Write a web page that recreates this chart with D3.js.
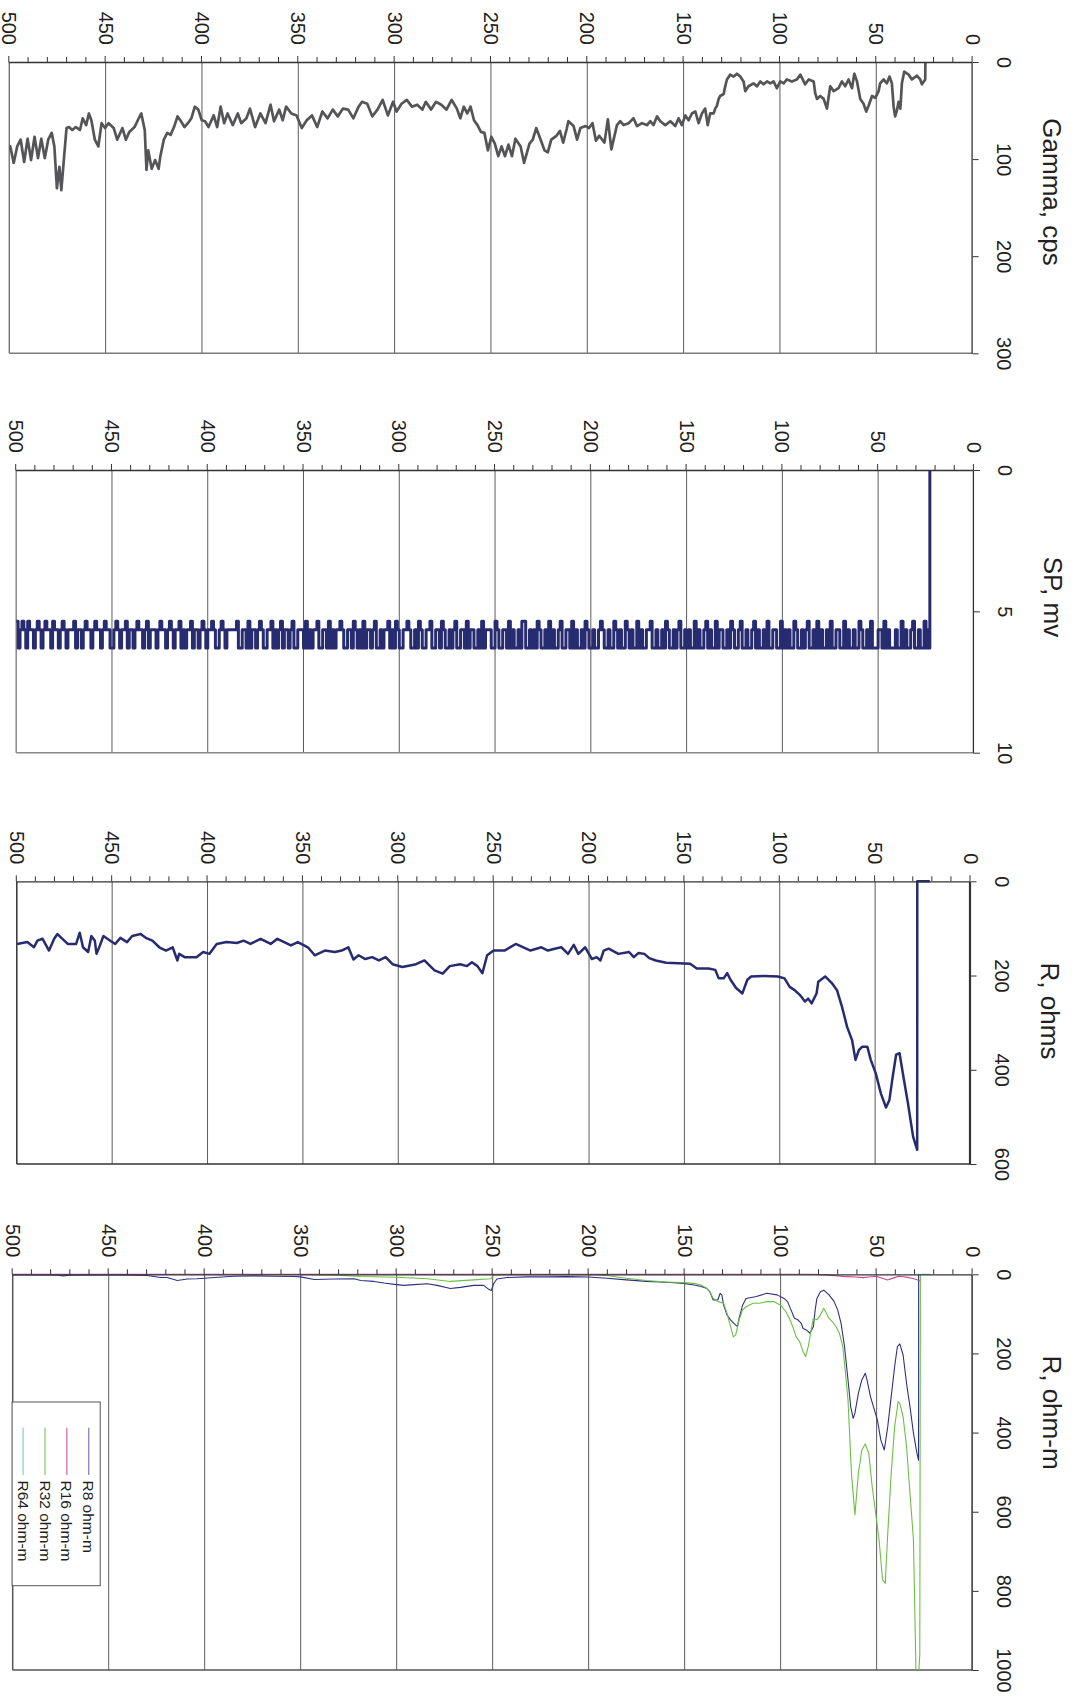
<!DOCTYPE html>
<html>
<head>
<meta charset="utf-8">
<script src="https://cdn.jsdelivr.net/npm/d3@7"></script>
<style>
  body { margin: 0; background: #fff; }
  svg { display: block; }
</style>
</head>
<body>
<svg id="chart" width="1079" height="1706"></svg>
<script>
// ---- Log data: [depth, value] ----
const gamma = [[24.5,0],[24.6,18],[26.3,23],[27.2,18],[28.9,14],[31.5,18],[33.2,13],[35.5,10],[36.7,22],[37.5,48],[38.4,41],[39.3,50],[40.2,56],[41,46],[41.9,22],[43.1,15],[44.5,22],[46.2,18],[48,22],[48.8,30],[50.5,37],[52.2,35],[54,45],[55.2,51],[56.6,43],[58.3,38],[60,20],[61.4,12],[62.6,27],[64.4,18],[66.1,25],[67.8,20],[69.6,27],[72.1,30],[73.9,25],[75.6,48],[77.3,38],[79.1,35],[80.8,38],[81.7,32],[82.5,20],[85.1,18],[86.9,23],[89.4,13],[91.2,18],[93.8,20],[96.4,18],[98.1,22],[99.8,20],[101.6,27],[103.3,20],[105,22],[106.7,20],[108.5,23],[110.2,20],[111.9,25],[113.7,22],[116.3,25],[118,30],[118.9,20],[120.6,15],[122.3,12],[124,15],[125.8,13],[127.5,18],[128.4,25],[129.2,33],[131,35],[131.8,38],[132.7,45],[133.6,48],[134.4,53],[136.2,53],[137.5,65],[138.8,48],[140.5,53],[142.2,63],[143.9,51],[145.7,53],[147.4,60],[149.1,55],[150.9,65],[152.6,58],[154.3,66],[156.9,61],[159.5,65],[162.1,61],[163.8,56],[165.6,65],[167.3,61],[169,65],[171.6,63],[174.2,66],[176,58],[178.5,63],[181.1,65],[182.9,61],[184.6,65],[187.5,90],[189.3,59],[191.1,83],[193.8,76],[195.5,81],[197.3,63],[199.1,68],[200.9,66],[203.6,68],[205.3,80],[207.1,66],[209.8,61],[210.7,69],[212.5,83],[214.2,71],[216,76],[218.7,80],[220.5,93],[222.2,91],[224.2,80],[226.5,68],[228.3,80],[230,84],[232.8,104],[234.6,87],[237.3,79],[239.1,97],[240.9,85],[242.7,97],[244.5,87],[246.2,97],[248,84],[249.8,77],[251.6,91],[253.4,73],[255.2,72],[257,65],[258.8,60],[260.6,46],[262.3,53],[264.1,46],[265.9,58],[267.7,48],[270.4,39],[273.1,49],[275.8,44],[278.5,41],[281.1,49],[283.8,41],[285.6,49],[288.3,44],[291,46],[293.7,39],[296.4,43],[299,51],[300.8,41],[303.5,55],[306.2,39],[308.9,49],[311.6,56],[314.2,43],[316.9,41],[318.7,46],[321.4,58],[324.1,49],[326.8,48],[329.5,56],[332.1,49],[334.8,58],[337.5,51],[340.2,67],[342.9,55],[345.6,60],[348.2,68],[350.9,55],[353.6,53],[356.3,46],[358.1,60],[359.9,49],[362.6,61],[364.4,44],[367,63],[369.7,53],[372.4,67],[375.1,48],[376.9,58],[379.6,63],[381.4,53],[384,65],[386.7,53],[388.5,63],[390.3,46],[392.1,67],[393.9,55],[396.6,67],[398.4,61],[400.1,60],[401.9,49],[403.7,46],[405.5,58],[407.3,63],[409.1,67],[410.9,61],[412.7,56],[414.5,67],[416.3,75],[418,73],[419.8,80],[421.6,97],[422.5,110],[424.3,101],[426.1,110],[427.9,91],[428.8,111],[429.7,70],[431.5,53],[433.3,60],[435,67],[437.7,72],[439.5,80],[441.3,68],[444,80],[445.8,68],[448.5,63],[450.3,68],[452.1,63],[453.8,87],[455.6,80],[457.4,60],[458.7,53],[460.1,65],[461.9,58],[463.3,70],[465.5,67],[467.3,70],[469,67],[470.3,68],[471.7,101],[473,132],[474,108],[475.3,130],[476.6,87],[478,73],[479.8,80],[481.6,99],[483.4,79],[485.1,99],[486.9,77],[488.7,101],[490.5,79],[492.3,103],[494.1,80],[495.9,87],[497.7,104],[499.5,87],[500,91]];

// SP, mv: one reading per metre from 23 m to 500 m
const spStartDepth = 23;
const spValues = [
6.3,5.65,6.3,5.35,6.3,6.3,5.65,6.3,6.3,5.35,5.65,6.3,6.3,5.65,6.3,5.35,6.3,6.3,5.65,6.3,
6.3,6.3,5.65,6.3,5.35,6.3,5.65,5.65,6.3,6.3,6.3,5.35,6.3,5.65,6.3,6.3,5.65,5.35,6.3,6.3,
5.65,6.3,6.3,5.65,6.3,5.35,6.3,6.3,5.65,5.65,6.3,6.3,5.35,6.3,5.65,6.3,6.3,5.65,6.3,5.35,
6.3,5.65,6.3,6.3,5.35,5.65,6.3,5.65,6.3,6.3,5.65,5.35,6.3,6.3,5.65,6.3,5.65,6.3,5.35,6.3,
6.3,5.65,5.65,6.3,6.3,5.35,6.3,5.65,6.3,6.3,5.65,6.3,5.35,5.65,6.3,6.3,5.65,6.3,6.3,5.35,
5.65,6.3,6.3,5.65,5.35,6.3,5.65,6.3,6.3,5.65,5.65,6.3,5.35,6.3,6.3,5.65,6.3,5.35,5.65,6.3,
6.3,5.65,6.3,5.35,6.3,6.3,5.65,6.3,5.65,6.3,6.3,5.35,5.65,6.3,5.65,6.3,6.3,5.65,5.35,6.3,
5.65,6.3,6.3,5.65,6.3,6.3,5.35,5.65,5.65,6.3,6.3,5.65,6.3,5.35,6.3,6.3,5.65,6.3,5.65,5.35,
6.3,6.3,5.65,6.3,5.65,5.35,6.3,6.3,5.65,6.3,6.3,5.65,5.35,5.65,6.3,6.3,5.65,6.3,6.3,5.65,
5.35,6.3,5.65,6.3,6.3,5.65,6.3,5.35,6.3,5.65,5.65,6.3,6.3,5.35,5.65,6.3,6.3,5.65,6.3,5.35,
6.3,5.65,6.3,6.3,5.65,5.35,6.3,5.65,6.3,5.65,6.3,6.3,5.35,5.35,6.3,5.65,6.3,6.3,5.65,6.3,
5.35,6.3,5.65,5.65,6.3,6.3,5.65,5.35,6.3,6.3,5.65,5.65,5.65,6.3,5.35,6.3,5.65,6.3,6.3,5.65,
5.65,6.3,5.35,6.3,5.65,5.65,6.3,6.3,5.35,5.65,6.3,5.65,6.3,6.3,5.65,5.35,6.3,5.65,5.65,6.3,
6.3,5.35,5.65,5.65,6.3,6.3,5.65,5.35,6.3,5.65,6.3,6.3,5.65,5.35,5.65,5.65,6.3,6.3,5.65,5.35,
6.3,5.65,6.3,5.35,5.65,5.65,6.3,5.65,6.3,6.3,5.35,5.65,6.3,5.65,5.65,6.3,5.35,6.3,5.65,6.3,
5.65,5.35,6.3,5.65,5.65,6.3,6.3,5.65,5.35,5.65,5.65,6.3,5.65,6.3,5.35,6.3,5.65,5.65,6.3,6.3,
5.35,5.65,5.65,6.3,5.65,6.3,5.35,6.3,5.65,5.65,5.65,6.3,6.3,5.35,5.65,6.3,5.65,5.65,6.3,5.35,
5.65,6.3,5.65,6.3,5.35,5.65,5.65,6.3,6.3,5.65,5.35,5.65,6.3,5.65,5.65,6.3,5.35,6.3,5.65,5.65,
6.3,6.3,5.35,5.65,5.65,5.65,5.65,5.65,6.3,5.65,5.35,5.65,6.3,6.3,5.65,5.35,5.65,5.65,6.3,5.65,
5.35,5.65,6.3,5.65,5.65,6.3,5.35,5.65,5.65,6.3,5.65,6.3,5.35,5.65,5.65,6.3,5.65,5.35,5.65,6.3,
5.65,5.65,5.35,5.65,6.3,5.65,5.65,5.65,6.3,5.35,5.65,6.3,5.65,5.65,5.35,5.65,6.3,5.65,5.65,6.3,
5.35,5.65,5.65,6.3,5.65,5.35,5.65,6.3,6.3,5.65,5.65,5.35,5.65,6.3,5.65,5.65,5.35,5.65,6.3,5.65,
5.65,5.35,5.65,6.3,5.65,5.65,6.3,5.35,5.65,5.65,5.65,6.3,5.65,5.35,5.65,6.3,5.65,5.65,5.35,6.3,
5.65,5.65,5.35,5.65,6.3,5.65,5.35,5.65,6.3,5.65,5.65,5.35,6.3,5.65,5.35,5.65,6.3,5.35
];

const rOhms = [[21.3,0],[27.9,0],[27.95,570],[30.1,542],[32.8,471],[35.5,407],[37.2,365],[39,368],[40.8,415],[42.5,464],[44.3,480],[47,450],[49.7,407],[52.3,379],[54.1,351],[56.7,351],[58.5,358],[60.3,379],[62.1,337],[64.7,309],[67.4,266],[70,231],[72.7,216],[76.2,202],[79.8,213],[80.7,238],[83.3,259],[85.1,249],[86.8,255],[89.5,241],[92.2,231],[94.8,224],[97.5,206],[101,202],[108,201],[115,202],[117,209],[119.6,238],[123,226],[125.8,209],[127.6,195],[129.4,206],[132,206],[133.8,188],[137.3,185],[143.5,185],[147,175],[159.5,173],[165,168],[168.4,163],[171,154],[174,152],[176.5,161],[179,150],[184.6,154],[189.7,143],[192.3,147],[194,168],[196,161],[198.5,165],[202,140],[205.6,154],[208,135],[211,154],[214.5,140],[218,143],[221.5,147],[225,140],[230.7,147],[238.4,133],[244.3,147],[250,147],[253.4,157],[255.9,195],[258.5,180],[261.4,172],[264,180],[267.6,176],[273,180],[276.7,196],[281,189],[286.3,168],[290.7,176],[297.8,182],[303,176],[306.6,161],[310.2,168],[313.7,161],[317.3,165],[320.8,157],[323.5,166],[326.2,140],[329.7,147],[333.2,150],[338.5,147],[343.8,157],[347.4,140],[352.7,129],[356.3,136],[363.4,122],[366.9,133],[372.2,122],[377.5,133],[381.1,126],[384.6,131],[390,129],[395.2,133],[399,154],[402.3,150],[405.8,161],[412,161],[414.9,154],[415.8,168],[418.3,140],[421.8,147],[425.3,140],[428.9,126],[432.4,120],[435.1,112],[439.5,116],[442.2,129],[445.7,120],[448.4,133],[451,126],[454.6,116],[456.4,136],[458.2,154],[459.1,126],[460.9,116],[462.6,150],[465.3,140],[467,109],[468.9,133],[473.3,133],[475.1,126],[478.7,112],[480.4,122],[483.1,147],[486.5,122],[489.2,126],[491,140],[494.5,129],[499.8,133]];

const r8 = [[28.1,0],[28.15,470],[29,452],[30.8,402],[32.6,335],[34.4,276],[36.2,204],[37.9,176],[39.2,183],[40.6,233],[42.4,309],[44.2,385],[46,444],[47.8,419],[49.6,368],[51.4,339],[53.2,309],[55,267],[55.9,250],[57.7,267],[59.5,301],[61.3,351],[62.2,364],[63.5,335],[64.9,267],[66.7,183],[68.5,124],[70.3,90],[72.1,69],[74.8,52],[77.5,40],[79.3,44],[81.1,61],[82,90],[82.9,132],[84.7,149],[86.5,141],[88.3,137],[89.2,124],[91,115],[92.8,111],[94.6,90],[96.4,69],[98.2,61],[101.8,52],[107.2,48],[112.6,56],[118,61],[119.8,78],[121.6,111],[122.5,132],[124.3,124],[126.1,115],[127.9,103],[129.7,78],[130.6,52],[131.5,48],[132.7,65],[135.1,65],[136.9,44],[138.7,35],[141.4,31],[145,27],[150.4,23],[159.5,20],[169.9,18],[180.3,14],[190.5,10],[200,7],[211.4,6],[221.8,6.5],[232.2,6.5],[242.6,8],[247.8,12],[249.5,24],[250.7,41],[252,38],[254.7,28],[259.9,28],[266.8,33],[272,36],[279,28],[284,24],[291,26],[296.2,28],[300,26],[306.6,22],[311.8,18],[318.7,15.5],[322.2,11.4],[332.6,12],[343,13],[350,6.5],[353.5,5.7],[364,5],[374.3,4],[384.8,5],[395,8],[400,10],[404,11.4],[409,12],[414.3,15.5],[419.5,8],[423,8],[430,3],[437,2],[450,1.5],[470,2],[474,4],[476,2],[490,1.5],[500,1.5]];

const r16 = [[27.4,17],[30,12],[33,8.5],[36,6],[38.5,5],[41,9],[44.4,14.5],[47,10],[50.5,5],[54,7],[57,8.5],[61,7],[65.7,6],[70,4],[75,2],[83,0],[500,0]];

const r32 = [[27.2,0],[27.5,960],[28.4,1040],[29.4,1030],[30.8,672],[32.6,554],[34.4,436],[36.2,360],[37.9,326],[38.8,322],[40.6,385],[42.4,503],[44.2,655],[45.5,781],[46.9,772],[48.7,672],[50.5,604],[52.3,537],[54.1,452],[55.9,429],[57.7,444],[59.5,503],[61.3,608],[63.1,503],[64.9,318],[66.2,250],[67.6,183],[69.4,149],[71.2,132],[73,120],[74.8,111],[77.5,86],[79.3,103],[81.1,115],[82.9,111],[83.8,132],[85.6,183],[87,208],[88.3,195],[90.1,170],[91.9,158],[93.7,132],[95.5,111],[97.3,94],[100,78],[103.6,69],[107.2,69],[110.8,73],[114.4,73],[118,82],[119.8,90],[121.6,115],[123.4,153],[124.6,158],[126.1,132],[127.9,99],[129.7,73],[132.4,69],[135.1,61],[136.9,44],[138.7,35],[141.4,27],[145,23],[150.4,21],[159.5,19.6],[170,15.5],[180.3,10],[190.5,3],[197,1],[243,1],[249.5,1.6],[251,11.4],[260,14],[272,18],[284,11.4],[300,7.3],[318.7,5.7],[330,2],[345,1]];

const r64 = [[22.5,0],[27.2,0]];

// ---- Track layout (screen px) ----
const FONT = '"Liberation Sans", Arial, Helvetica, sans-serif';
const INK = "#231f20";

const spData = [[spStartDepth, 0]].concat(spValues.map((v, i) => [spStartDepth + i, v]));

const tracks = [
  { left: 9.3, right: 972.6, top: 62, bottom: 353.3, max: 300, ticks: [0,100,200,300],
    title: "Gamma, cps", titleY: 192, frame: "#7a7a7a", axisW: 1.3,
    series: [{ data: gamma, color: "#555557", width: 2.7 }] },
  { left: 16.2, right: 973.9, top: 470, bottom: 752.7, max: 10, ticks: [0,5,10],
    title: "SP, mv", titleY: 597, frame: "#8a8a8a", axisW: 1.3,
    series: [{ data: spData, color: "#272b70", width: 3, curve: d3.curveStepAfter }] },
  { left: 16.8, right: 970.5, top: 881.3, bottom: 1164, max: 600, ticks: [0,200,400,600],
    title: "R, ohms", titleY: 1011, frame: "#333", axisW: 2.2,
    series: [{ data: rOhms, color: "#272b70", width: 2.5 }] },
  { left: 12.7, right: 972.6, top: 1274.3, bottom: 1670, max: 1000, ticks: [0,200,400,600,800,1000],
    title: "R, ohm-m", titleY: 1412.5, frame: "#555", axisW: 1.5,
    series: [
      { data: r8,  color: "#2e3182", width: 1.1 },
      { data: r32, color: "#6cbf45", width: 1.1 },
      { data: r16, color: "#c4449a", width: 1.1 },
      { data: r64, color: "#5ec4d4", width: 1.1 }
    ],
    legend: [
      { label: "R8 ohm-m",  color: "#5b5ea8" },
      { label: "R16 ohm-m", color: "#c4449a" },
      { label: "R32 ohm-m", color: "#6cbf45" },
      { label: "R64 ohm-m", color: "#5ec4d4" }
    ] }
];

const svg = d3.select("#chart");

tracks.forEach((t, idx) => {
  const W = t.right - t.left;   // depth extent
  const H = t.bottom - t.top;   // value extent
  // Each track is drawn as a conventional log (value across, depth down) and turned a quarter.
  const g = svg.append("g").attr("transform", `translate(${t.right},${t.top}) rotate(90)`);

  const depth = d3.scaleLinear().domain([0, 500]).range([0, W]);
  const val = d3.scaleLinear().domain([0, t.max]).range([0, H]);

  // depth grid every 50 m
  g.append("g").selectAll("line").data(d3.range(50, 500, 50)).join("line")
    .attr("x1", 0).attr("x2", H)
    .attr("y1", d => depth(d)).attr("y2", d => depth(d))
    .attr("stroke", "#5c5c5c").attr("stroke-width", 1);

  // frame: 500 m edge and far value edge
  g.append("line").attr("x1", 0).attr("x2", H).attr("y1", W).attr("y2", W)
    .attr("stroke", t.frame).attr("stroke-width", 1.5);
  g.append("line").attr("x1", H).attr("x2", H).attr("y1", 0).attr("y2", W)
    .attr("stroke", t.frame).attr("stroke-width", 1.5);

  const clipId = "clip-" + idx;
  g.append("clipPath").attr("id", clipId).append("rect")
    .attr("x", -3).attr("y", 0).attr("width", H + 3).attr("height", W);

  t.series.forEach(s => {
    const line = d3.line().x(p => val(p[1])).y(p => depth(p[0]));
    if (s.curve) line.curve(s.curve);
    g.append("path").datum(s.data)
      .attr("clip-path", `url(#${clipId})`)
      .attr("fill", "none")
      .attr("stroke", s.color)
      .attr("stroke-width", s.width)
      .attr("stroke-linejoin", "round")
      .attr("d", line);
  });

  // depth axis (ticks every 10 m, labels every 50 m)
  const dAxis = d3.axisLeft(depth)
    .tickValues(d3.range(0, 501, 10))
    .tickSize(5).tickSizeOuter(0).tickPadding(12)
    .tickFormat(d => d % 50 === 0 ? d : "");
  const dg = g.append("g").call(dAxis)
    .attr("color", "#333").attr("font-size", 20).attr("font-family", FONT);
  dg.select(".domain").attr("stroke-width", 1.3);
  dg.selectAll(".tick line").attr("x2", d => d % 50 === 0 ? -6 : -5);
  dg.selectAll(".tick text").attr("fill", INK);

  // value axis along the 0 m edge
  const vAxis = d3.axisTop(val).tickValues(t.ticks).tickFormat(d3.format("d"))
    .tickSize(6).tickSizeOuter(0).tickPadding(18);
  const vg = g.append("g").call(vAxis)
    .attr("color", "#333").attr("font-size", 20).attr("font-family", FONT);
  vg.select(".domain").attr("stroke-width", t.axisW);
  vg.selectAll(".tick text").attr("fill", INK);

  // track title
  g.append("text")
    .attr("x", t.titleY - t.top).attr("y", -70.5)
    .attr("text-anchor", "middle")
    .attr("font-family", FONT).attr("font-size", 26).attr("fill", INK)
    .text(t.title);

  // legend
  if (t.legend) {
    const lg = g.append("g").attr("transform", `translate(${1402 - t.top},${t.right - 100.2})`);
    lg.append("rect").attr("x", 0).attr("y", 0).attr("width", 183.7).attr("height", 88.1)
      .attr("fill", "#fff").attr("stroke", "#555").attr("stroke-width", 1);
    const rows = lg.selectAll("g.entry").data(t.legend).join("g")
      .attr("class", "entry")
      .attr("transform", (d, i) => `translate(0,${11.4 + i * 21.9})`);
    rows.append("line").attr("x1", 25.7).attr("x2", 73)
      .attr("stroke", d => d.color).attr("stroke-width", 1);
    rows.append("text").attr("x", 78.5).attr("dy", "0.35em")
      .attr("font-family", FONT).attr("font-size", 15.5).attr("fill", INK)
      .text(d => d.label);
  }
});
</script>
</body>
</html>
